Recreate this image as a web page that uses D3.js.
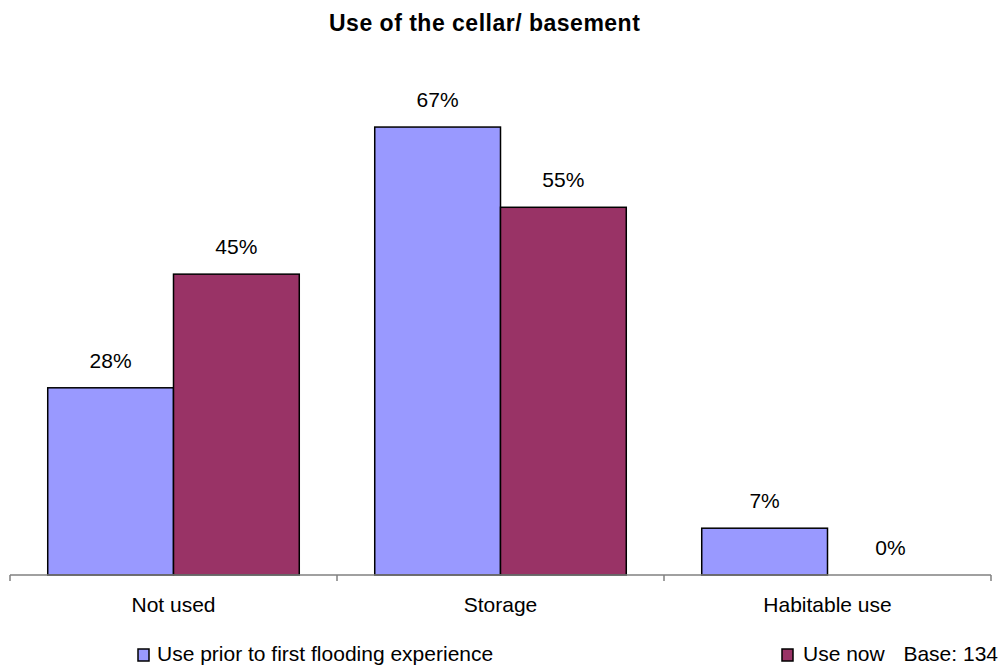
<!DOCTYPE html>
<html><head><meta charset="utf-8">
<script src="https://cdn.jsdelivr.net/npm/d3@7"></script>
<style>body{margin:0;background:#fff}svg{display:block}text{font-family:Arial,"Liberation Sans",sans-serif}</style>
</head><body><svg id="c" width="1003" height="665"></svg>
<script>
const categories = ["Not used", "Storage", "Habitable use"];
const seriesNames = ["Use prior to first flooding experience", "Use now"];
const priorValues = [28, 67, 7];
const nowValues = [45, 55, 0];
const title = "Use of the cellar/ basement";
const baseNote = "Base: 134";
const colors = ["#9999FF", "#993366"];

const svg = d3.select("#c");
const left = 10, right = 991, baseY = 575, topY = 107;
const x = d3.scaleBand().domain(categories).range([left, right]).paddingInner(0).paddingOuter(0);
const xs = d3.scaleBand().domain([0,1]).range([0, x.bandwidth()]).paddingInner(0).paddingOuter(0.3);
const y = d3.scaleLinear().domain([0, 70]).range([baseY, topY]);

svg.append("text").attr("x", 329).attr("y", 31)
  .attr("font-size", 23).attr("font-weight","bold").attr("letter-spacing", 0.5).text(title);

const data = categories.map((c,i)=>({c, v:[priorValues[i], nowValues[i]]}));
const g = svg.append("g");
data.forEach(d=>{
  d.v.forEach((v,s)=>{
    const bx = x(d.c) + xs(s);
    if (v > 0) g.append("rect").attr("x", bx).attr("y", y(v)).attr("width", xs.bandwidth()).attr("height", y(0)-y(v))
      .attr("fill", colors[s]).attr("stroke","#000").attr("stroke-width",1.5);
    g.append("text").attr("x", bx + xs.bandwidth()/2).attr("y", y(v)-20).attr("text-anchor","middle")
      .attr("font-size", 21).text(v + "%");
  });
});

const axis = svg.append("g").attr("transform", `translate(0,${baseY})`);
axis.append("line").attr("x1", left).attr("x2", right).attr("stroke","#808080").attr("stroke-width",1.5);
const ticks = categories.map(c=>x(c)).concat([right]);
axis.selectAll("line.t").data(ticks).enter().append("line").attr("class","t")
  .attr("x1", d=>d).attr("x2", d=>d).attr("y1",0).attr("y2",6).attr("stroke","#808080").attr("stroke-width",1.5);
axis.selectAll("text").data(categories).enter().append("text")
  .attr("x", d=>x(d)+x.bandwidth()/2).attr("y", 37).attr("text-anchor","middle").attr("font-size",21).text(d=>d);

// legend
const leg = svg.append("g");
leg.append("rect").attr("x",138).attr("y",649).attr("width",11).attr("height",12).attr("fill",colors[0]).attr("stroke","#000").attr("stroke-width",1.5);
leg.append("text").attr("x",157).attr("y",661).attr("font-size",21).text(seriesNames[0]);
leg.append("rect").attr("x",782).attr("y",649).attr("width",11).attr("height",12).attr("fill",colors[1]).attr("stroke","#000").attr("stroke-width",1.5);
leg.append("text").attr("x",803).attr("y",661).attr("font-size",21).text(seriesNames[1]);
leg.append("text").attr("x",998).attr("y",661).attr("text-anchor","end").attr("font-size",21).text(baseNote);
</script></body></html>
